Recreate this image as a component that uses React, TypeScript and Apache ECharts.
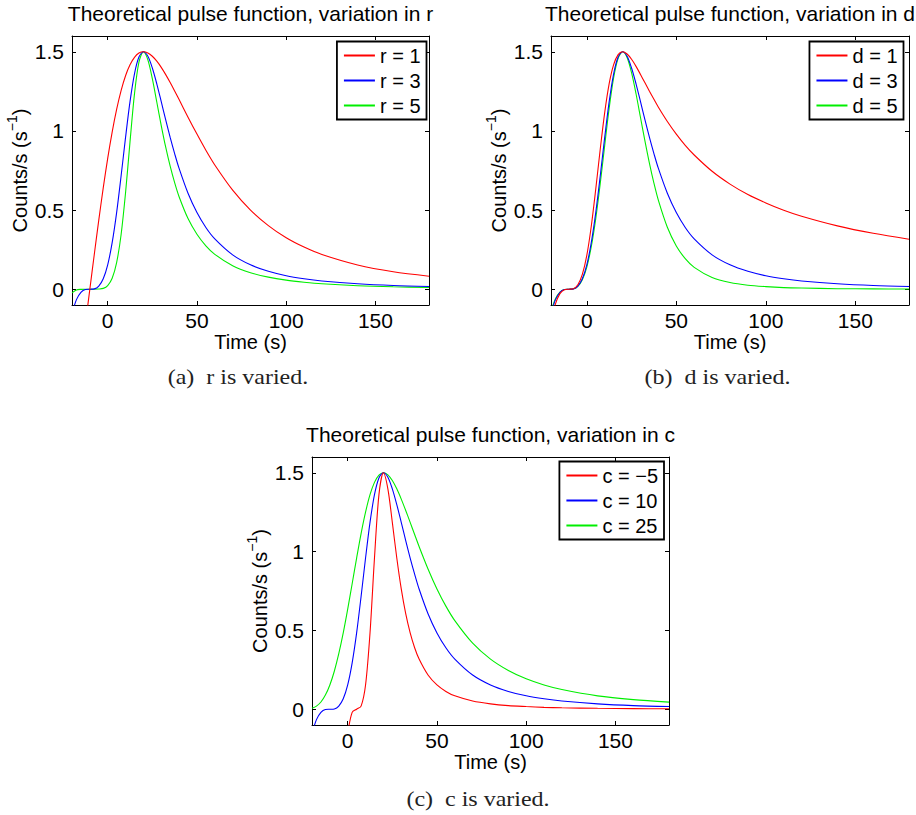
import React, { useEffect, useRef } from "react";
import * as echarts from "echarts";

// Sample times (s) shared by every curve
const time = [
  -20, -17.5, -15, -12.5, -10, -7.5, -5, -2.5, 0, 2.5, 5, 7.5, 10, 12.5, 15, 17.5, 20, 22.5, 25, 27.5,
  30, 32.5, 35, 37.5, 40, 45, 50, 55, 60, 70, 80, 90, 100, 110, 120, 140, 160, 180,
];

// Reference pulse: r = 3, d = 3, c = 10 (appears in all three panels)
const basePulse = [
  -0.154, -0.066, -0.02, -0.002, 0, 0.002, 0.02, 0.066, 0.154, 0.294, 0.484, 0.715, 0.959, 1.185, 1.361, 1.467,
  1.5, 1.472, 1.398, 1.298, 1.185, 1.07, 0.959, 0.857, 0.763, 0.606, 0.484, 0.39, 0.318, 0.217, 0.154, 0.113,
  0.085, 0.066, 0.052, 0.034, 0.023, 0.017,
];

// Panel (a): rise exponent r
const pulseR1 = [
  null, null, null, -0.221, 0, 0.221, 0.436, 0.64, 0.827, 0.993, 1.136, 1.255, 1.349, 1.418, 1.465, 1.492,
  1.5, 1.493, 1.472, 1.441, 1.402, 1.356, 1.306, 1.253, 1.198, 1.087, 0.98, 0.878, 0.785, 0.626, 0.5, 0.402,
  0.325, 0.266, 0.219, 0.153, 0.11, 0.082,
];
const pulseR5 = [
  -0.023, -0.005, -0.001, 0, 0, 0, 0.001, 0.005, 0.023, 0.069, 0.168, 0.344, 0.609, 0.931, 1.234, 1.435,
  1.5, 1.449, 1.33, 1.183, 1.034, 0.897, 0.777, 0.673, 0.584, 0.446, 0.347, 0.274, 0.22, 0.148, 0.104, 0.076,
  0.057, 0.044, 0.034, 0.022, 0.015, 0.011,
];

// Panel (b): decay exponent d
const pulseD1 = [
  -0.214, -0.093, -0.028, -0.003, 0, 0.003, 0.028, 0.093, 0.214, 0.398, 0.632, 0.884, 1.116, 1.299, 1.419, 1.482,
  1.5, 1.486, 1.453, 1.408, 1.357, 1.304, 1.251, 1.2, 1.15, 1.06, 0.98, 0.909, 0.848, 0.745, 0.664, 0.598,
  0.545, 0.499, 0.461, 0.4, 0.353, 0.316,
];
const pulseD5 = [
  -0.14, -0.06, -0.018, -0.002, 0, 0.002, 0.018, 0.06, 0.14, 0.268, 0.446, 0.666, 0.909, 1.144, 1.337, 1.459,
  1.5, 1.464, 1.368, 1.235, 1.085, 0.935, 0.795, 0.67, 0.561, 0.391, 0.273, 0.193, 0.138, 0.074, 0.042, 0.025,
  0.016, 0.01, 0.007, 0.003, 0.002, 0.001,
];

// Panel (c): time offset c
const pulseCm5 = [
  null, null, null, null, null, null, null, null, -0.154, -0.02, 0, 0.02, 0.154, 0.484, 0.959, 1.361,
  1.5, 1.398, 1.185, 0.959, 0.763, 0.606, 0.484, 0.39, 0.318, 0.217, 0.154, 0.113, 0.085, 0.052, 0.034, 0.023,
  0.017, 0.012, 0.009, 0.006, 0.004, 0.003,
];
const pulseC25 = [
  0.006, 0.02, 0.046, 0.09, 0.154, 0.241, 0.352, 0.484, 0.635, 0.796, 0.959, 1.114, 1.25, 1.361, 1.439, 1.485,
  1.5, 1.487, 1.451, 1.398, 1.333, 1.261, 1.185, 1.108, 1.032, 0.89, 0.763, 0.654, 0.562, 0.419, 0.318, 0.246,
  0.193, 0.154, 0.125, 0.085, 0.061, 0.045,
];

const xTicks = [0, 50, 100, 150];
const yTicks = [0, 0.5, 1, 1.5];

const panelTitles = [
  "Theoretical pulse function, variation in r",
  "Theoretical pulse function, variation in d",
  "Theoretical pulse function, variation in c",
];
const captions = ["(a)\u2002r is varied.", "(b)\u2002d is varied.", "(c)\u2002c is varied."];
const legendNames = [
  ["r = 1", "r = 3", "r = 5"],
  ["d = 1", "d = 3", "d = 5"],
  ["c = \u22125", "c = 10", "c = 25"],
];
const panelSeries = [
  [pulseR1, basePulse, pulseR5],
  [pulseD1, basePulse, pulseD5],
  [pulseCm5, basePulse, pulseC25],
];
const lineColors = ["#ff0000", "#0000ff", "#00ee00"];

const SANS = "Liberation Sans, Arial, sans-serif";
const SERIF = "Liberation Serif, serif";
const W = 916;

// Axes boxes in pixels
const panels = [
  { left: 72, top: 36, width: 357, height: 269, legendRight: W - 426.5, legendTop: 41.5, caption: [238, 377] },
  { left: 551, top: 36, width: 358, height: 269, legendRight: W - 903.5, legendTop: 41.5, caption: [717.5, 377] },
  { left: 312, top: 457, width: 357, height: 268, legendRight: W - 664, legendTop: 461.5, caption: [478, 799] },
];

function toPoints(values: (number | null)[]) {
  const pts: [number, number][] = [];
  values.forEach((v, i) => {
    if (v !== null) pts.push([time[i], v]);
  });
  return pts;
}

function buildOption() {
  const grid: any[] = [];
  const xAxis: any[] = [];
  const yAxis: any[] = [];
  const legend: any[] = [];
  const series: any[] = [];
  const graphic: any[] = [];

  const axisLine = { show: true, onZero: false, lineStyle: { color: "#000", width: 1 } };
  const tick = (vals: number[]) => ({
    show: true,
    inside: true,
    length: 4,
    customValues: vals,
    lineStyle: { color: "#000", width: 1 },
  });

  panels.forEach((p, k) => {
    grid.push({ left: p.left, top: p.top, width: p.width, height: p.height, containLabel: false, outerBoundsMode: "none" });

    // bottom / top x axes (top one only mirrors the ticks)
    xAxis.push({
      type: "value",
      gridIndex: k,
      position: "bottom",
      min: -20,
      max: 180,
      axisLine,
      axisTick: tick(xTicks),
      axisLabel: { show: true, customValues: xTicks, margin: 5, fontSize: 21, color: "#000", fontFamily: SANS },
      splitLine: { show: false },
      name: "Time (s)",
      nameLocation: "middle",
      nameGap: 25,
      nameTextStyle: { fontSize: 20, color: "#000", fontFamily: SANS },
    });
    xAxis.push({
      type: "value",
      gridIndex: k,
      position: "top",
      min: -20,
      max: 180,
      axisLine,
      axisTick: tick(xTicks),
      axisLabel: { show: false },
      splitLine: { show: false },
    });

    // left / right y axes (right one only mirrors the ticks)
    yAxis.push({
      type: "value",
      gridIndex: k,
      position: "left",
      min: -0.1,
      max: 1.6,
      axisLine,
      axisTick: tick(yTicks),
      axisLabel: { show: true, customValues: yTicks, margin: 8, fontSize: 21, color: "#000", fontFamily: SANS },
      splitLine: { show: false },
      name: "Counts/s (s{sup|\u22121})",
      nameLocation: "middle",
      nameRotate: 90,
      nameGap: 37,
      nameMoveOverlap: false,
      nameTextStyle: {
        fontSize: 20,
        lineHeight: 30,
        color: "#000",
        fontFamily: SANS,
        rich: {
          sup: { fontSize: 14, lineHeight: 14, verticalAlign: "top", color: "#000", fontFamily: SANS },
        },
      },
    });
    yAxis.push({
      type: "value",
      gridIndex: k,
      position: "right",
      min: -0.1,
      max: 1.6,
      axisLine,
      axisTick: tick(yTicks),
      axisLabel: { show: false },
      splitLine: { show: false },
    });

    legend.push({
      orient: "vertical",
      right: p.legendRight,
      top: p.legendTop,
      data: legendNames[k],
      itemWidth: 31,
      itemHeight: 1,
      itemGap: 5,
      padding: [4, 6, 4, 6],
      borderColor: "#000",
      borderWidth: 1.8,
      backgroundColor: "#fff",
      selectedMode: false,
      textStyle: { fontSize: 20, color: "#000", fontFamily: SANS },
    });

    panelSeries[k].forEach((vals, j) => {
      series.push({
        type: "line",
        name: legendNames[k][j],
        xAxisIndex: 2 * k,
        yAxisIndex: 2 * k,
        data: toPoints(vals),
        symbol: "none",
        showSymbol: false,
        smooth: 0.3,
        clip: true,
        silent: true,
        lineStyle: { color: lineColors[j], width: 1.1 },
        itemStyle: { color: lineColors[j] },
        z: 3 - j,
      });
    });

    // panel title above each axes box
    graphic.push({
      type: "text",
      x: p.left + p.width / 2,
      y: p.top - 23,
      style: {
        text: panelTitles[k],
        fontSize: 21,
        fontFamily: SANS,
        fill: "#000",
        align: "center",
        verticalAlign: "middle",
      },
    });
    // sub-figure caption
    graphic.push({
      type: "text",
      x: p.caption[0],
      y: p.caption[1],
      scaleX: 1.2,
      style: {
        text: captions[k],
        fontSize: 20,
        fontFamily: SERIF,
        fill: "#222",
        align: "center",
        verticalAlign: "middle",
      },
    });
  });

  return {
    animation: false,
    backgroundColor: "#fff",
    grid,
    xAxis,
    yAxis,
    legend,
    series,
    graphic,
  };
}

export default function App() {
  const ref = useRef<HTMLDivElement>(null);
  useEffect(() => {
    if (!ref.current) return;
    const chart = echarts.init(ref.current, null, { renderer: "svg" });
    chart.setOption(buildOption() as any);
    return () => chart.dispose();
  }, []);
  return (
    <div
      ref={ref}
      style={{ position: "absolute", left: 0, top: 0, width: 916, height: 815, background: "#fff" }}
    />
  );
}
